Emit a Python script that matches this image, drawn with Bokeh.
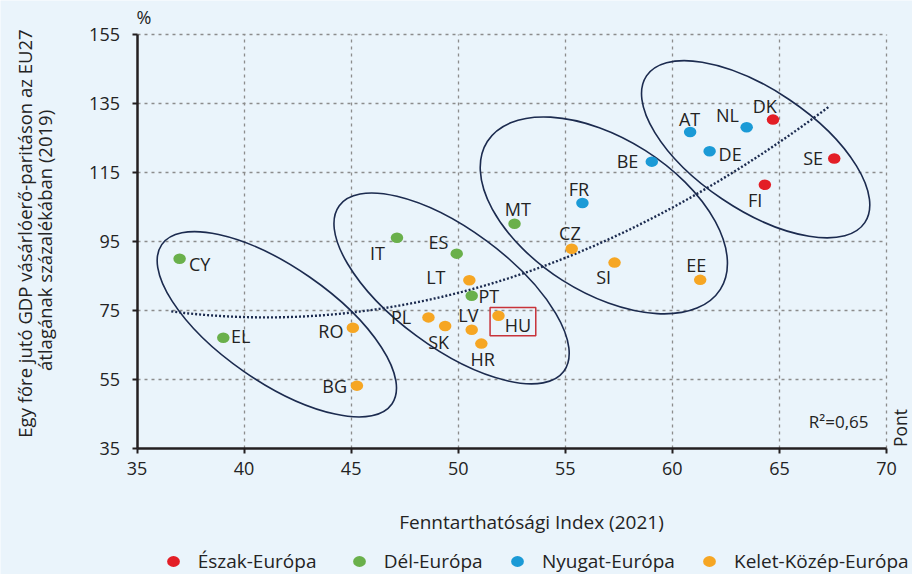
import numpy as np
from bokeh.plotting import figure
from bokeh.models import (ColumnDataSource, Range1d, FixedTicker, Label, LabelSet,
                          Legend, LegendItem, BoxAnnotation)
from bokeh.embed import file_html
from bokeh.resources import INLINE
from bokeh.core.properties import value

# ---------------- data ----------------
north_codes = ["DK", "SE", "FI"]
north_x = [64.70, 67.56, 64.32]
north_y = [130.3, 119.0, 111.4]

south_codes = ["CY", "EL", "IT", "ES", "PT", "MT"]
south_x = [36.99, 39.03, 47.14, 49.93, 50.63, 52.63]
south_y = [89.9, 67.0, 96.0, 91.4, 79.2, 100.1]

west_codes = ["AT", "NL", "DE", "BE", "FR"]
west_x = [60.83, 63.47, 61.74, 59.04, 55.80]
west_y = [126.7, 128.1, 121.1, 118.1, 106.1]

cee_codes = ["RO", "BG", "LT", "PL", "SK", "LV", "HR", "HU", "CZ", "SI", "EE"]
cee_x = [45.08, 45.27, 50.52, 48.61, 49.39, 50.63, 51.08, 51.88, 55.30, 57.30, 61.30]
cee_y = [69.9, 53.1, 83.7, 72.9, 70.4, 69.3, 65.3, 73.4, 92.8, 88.8, 83.8]

region_names = ["Észak-Európa", "Dél-Európa", "Nyugat-Európa", "Kelet-Közép-Európa"]
region_colors = ["#E31E26", "#6AB04B", "#1B9AD6", "#F6A623"]

x_ticks = [35, 40, 45, 50, 55, 60, 65, 70]
y_ticks = [35, 55, 75, 95, 115, 135, 155]
x_lim = (35, 70)
y_lim = (35, 155)

# group ellipses (centre in data units, size in screen px, angle in degrees)
group_cx = [41.53, 49.69, 56.80, 63.89]
group_cy = [70.9, 81.3, 102.5, 121.7]
group_w = [280, 279, 276, 263]
group_h = [115, 118, 154, 120]
group_angle = [-34.7, -36.4, -32.4, -33.9]

# label placement (screen px offsets of label centre from point, dy downward)
label_offsets = {
    "CY": (20, 4.7), "EL": (17.5, -1.6), "RO": (-22, 3.4), "BG": (-22.3, 0),
    "IT": (-19.4, 14.7), "ES": (-18.3, -12), "LT": (-33.5, -2.7), "PT": (17.2, 0),
    "PL": (-27.3, 0), "SK": (-6.5, 16.2), "LV": (-3.3, -15.3), "HR": (1.3, 15),
    "HU": (19.5, 9.5), "MT": (3.3, -15), "AT": (-0.5, -12.7), "NL": (-19.2, -12.2),
    "DK": (-8.3, -13.6), "DE": (20.5, 2.2), "BE": (-24.3, -0.6), "SE": (-21.1, -1),
    "FI": (-9.8, 15.2), "FR": (-3.4, -14.4), "CZ": (-1.8, -16), "SI": (-10.9, 14.3),
    "EE": (-4, -15),
}

FONT = "Open Sans"
TXT = "#232323"
BG = "#EAF4FB"
NAVY = "#1C2B4F"

W, H = 912, 574
# plot area placement on the canvas (px): left/right of x_lim, top/bottom of y_lim
PX_L, PX_R, PX_T, PX_B = 136.5, 886.0, 34.0, 447.5
sx = (PX_R - PX_L) / (x_lim[1] - x_lim[0])
sy = (PX_B - PX_T) / (y_lim[1] - y_lim[0])
xr = Range1d(x_lim[0] - PX_L / sx, x_lim[1] + (W - PX_R) / sx)
yr = Range1d(y_lim[0] - (H - PX_B) / sy, y_lim[1] + PX_T / sy)

p = figure(width=W, height=H, output_backend="svg", toolbar_location=None,
           x_range=xr, y_range=yr,
           min_border_left=0, min_border_right=0, min_border_top=0, min_border_bottom=0,
           background_fill_color=BG, border_fill_color=BG, outline_line_color=None)

# axes, pinned to the plot-area edges
for ax in (p.xaxis[0], p.yaxis[0]):
    ax.axis_line_color = "#231F20"
    ax.axis_line_width = 2.5
    ax.major_tick_line_color = "#231F20"
    ax.major_tick_line_width = 2
    ax.major_tick_out = 5
    ax.major_tick_in = 0
    ax.minor_tick_line_color = None
    ax.major_label_text_font = FONT
    ax.major_label_text_font_size = "18px"
    ax.major_label_text_color = TXT
p.xaxis.ticker = FixedTicker(ticks=x_ticks)
p.yaxis.ticker = FixedTicker(ticks=y_ticks)
p.xaxis.fixed_location = y_lim[0]
p.yaxis.fixed_location = x_lim[0]
p.xaxis.bounds = x_lim
p.yaxis.bounds = y_lim
p.xaxis.major_label_standoff = 9
p.yaxis.major_label_standoff = 12

for g in (p.xgrid[0], p.ygrid[0]):
    g.grid_line_color = "#8C8C8C"
    g.grid_line_dash = "3 4"
    g.grid_line_width = 1.3
p.xgrid.ticker = FixedTicker(ticks=x_ticks[1:])
p.ygrid.ticker = FixedTicker(ticks=y_ticks[1:])
p.xgrid.bounds = x_lim
p.ygrid.bounds = y_lim
p.xgrid.cross_bounds = y_lim
p.ygrid.cross_bounds = x_lim

# group ellipses
p.ellipse(x=group_cx, y=group_cy, width=group_w, height=group_h,
          width_units="screen", height_units="screen",
          angle=group_angle, angle_units="deg",
          fill_color=None, line_color=NAVY, line_width=1.6)

# trend line (quadratic fit of all points)
all_x = np.array(north_x + south_x + west_x + cee_x)
all_y = np.array(north_y + south_y + west_y + cee_y)
coef = np.polyfit(all_x, all_y, 2)
tx = np.linspace(36.6, 67.3, 200)
ty = np.polyval(coef, tx)
p.line(tx, ty, line_color=NAVY, line_width=2.4, line_dash="2 2")

# HU highlight box
hu_i = cee_codes.index("HU")
hu_x, hu_y = cee_x[hu_i], cee_y[hu_i]
p.add_layout(BoxAnnotation(left=hu_x - 8.4 / sx, right=hu_x + 37.3 / sx,
                           top=hu_y + 8.3 / sy, bottom=hu_y - 20.0 / sy,
                           fill_alpha=0, line_color="#C8333A", line_alpha=1.0,
                           line_width=1.5))

# points
groups = [(north_codes, north_x, north_y), (south_codes, south_x, south_y),
          (west_codes, west_x, west_y), (cee_codes, cee_x, cee_y)]
codes_all, xs_all, ys_all, xo, yo = [], [], [], [], []
point_renderers = []
for (codes, xs, ys), col in zip(groups, region_colors):
    r = p.ellipse(x=xs, y=ys, width=12.5, height=10.5, width_units="screen",
                  height_units="screen", fill_color=col, line_color=None)
    point_renderers.append(r)
    for c, xv, yv in zip(codes, xs, ys):
        dx, dy = label_offsets[c]
        codes_all.append(c); xs_all.append(xv); ys_all.append(yv)
        xo.append(dx); yo.append(-dy)

lab_src = ColumnDataSource(dict(x=xs_all, y=ys_all, t=codes_all, xo=xo, yo=yo))
p.add_layout(LabelSet(x="x", y="y", text="t", x_offset="xo", y_offset="yo", source=lab_src,
                      text_align="center", text_baseline="middle",
                      text_font=value(FONT), text_font_size="18px", text_color=TXT))

# texts (screen px, measured from the canvas' top-left)
def add_label(text, px, py, size="17px", angle=0.0, align="center", baseline="middle"):
    p.add_layout(Label(x=px, y=H - py, x_units="screen", y_units="screen", text=text,
                       angle=angle, text_align=align, text_baseline=baseline,
                       text_font=FONT, text_font_size=size, text_color=TXT))

add_label("Egy főre jutó GDP vásárlóerő-paritáson az EU27", 24, 233, "18.5px", np.pi / 2)
add_label("átlagának százalékában  (2019)", 43.5, 237.5, "18.5px", np.pi / 2)
add_label("%", 143.5, 16, "18px")
add_label("Pont", 911.5, 427.5, "17.5px", np.pi / 2, "center", "bottom")
add_label("R²=0,65", 868, 420.5, "17px", 0.0, "right")
add_label("Fenntarthatósági Index (2021)", 531, 521, "19px")

# legend (one per item for exact placement)
legend_px = [172.7, 358.7, 517.0, 709.0]
legend_py = 561.0
for name, r, lx in zip(region_names, point_renderers, legend_px):
    lg = Legend(items=[LegendItem(label=value(name), renderers=[r])],
                location=(lx - 8, H - legend_py - 14), orientation="horizontal",
                padding=0, margin=0, spacing=0, glyph_width=16, glyph_height=28,
                label_standoff=17, border_line_alpha=0, background_fill_alpha=0,
                label_text_font=FONT, label_text_font_size="19px", label_text_color=TXT)
    p.add_layout(lg)

html = file_html(p, INLINE)
html = html.replace("<body>", '<body style="background-color:%s;">' % BG, 1)
open("out.html", "w").write(html)
